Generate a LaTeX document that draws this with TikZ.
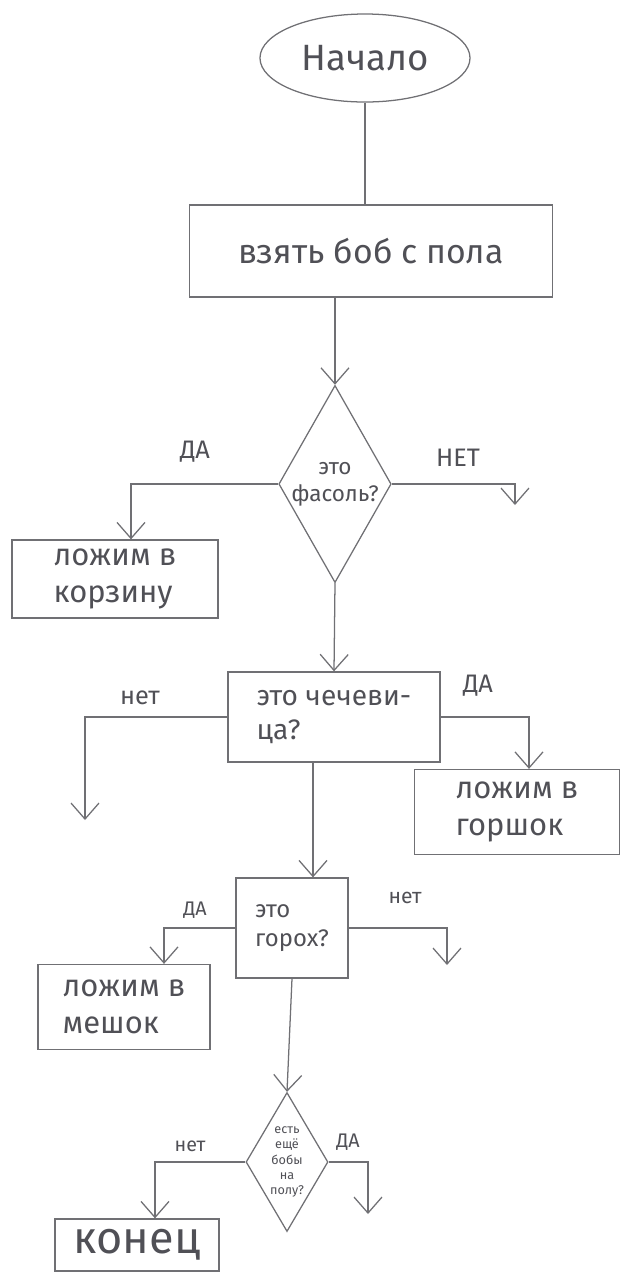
\documentclass[tikz,border=0pt]{standalone}
\usepackage{fontspec}
\setmainfont{Fira Sans}
\usetikzlibrary{shapes.geometric,arrows.meta}
\definecolor{pencil}{RGB}{112,112,116}
\definecolor{lead}{RGB}{80,80,86}
\newcommand{\hand}[1]{\fontsize{#1}{1.2\dimexpr#1pt\relax}\selectfont}
\begin{document}
\begin{tikzpicture}[x=0.025cm,y=-0.025cm,color=pencil,line width=0.9pt,
    terminal/.style={ellipse,draw,inner sep=0pt,text=lead},
    box/.style={rectangle,draw,inner sep=0pt,align=left,text=lead},
    decision/.style={diamond,draw,inner sep=0pt,align=center,text=lead},
    answer/.style={text=lead,font=\hand{18}},
    flow/.style={-{Straight Barb[length=4mm,width=7mm]}}]
    \useasboundingbox (0,0) rectangle (623,1272);

    % Start
    \node[terminal,minimum width=5.25cm,minimum height=2.2cm,font=\hand{26}] (start) at (365,58) {Начало};

    % Take a bean
    \node[box,minimum width=9.075cm,minimum height=2.3cm,font=\hand{24}] (take) at (371,251) {взять боб с пола};

    % First question
    \node[decision,minimum width=2.75cm,minimum height=4.8cm,aspect=0.57,font=\hand{16}] (isbean) at (335,484) {это\\фасоль?};
    \node[box,minimum width=5.15cm,minimum height=1.95cm,font=\hand{22}] (basket) at (115,579) {ложим в\\корзину};
    \coordinate (beanend) at (515,505);

    % Second question
    \node[box,minimum width=5.3cm,minimum height=2.25cm,font=\hand{20}] (islentil) at (334,717) {это чечеви-\\ца?};
    \node[box,minimum width=5.125cm,minimum height=2.125cm,font=\hand{22}] (pot) at (517,812) {ложим в\\горшок};
    \coordinate (lentilend) at (85,820);
    \coordinate (spine) at (313,0);

    % Third question
    \node[box,minimum width=2.8cm,minimum height=2.5cm,font=\hand{17}] (ispea) at (292,928) {это\\горох?};
    \node[box,minimum width=4.3cm,minimum height=2.125cm,font=\hand{22}] (sack) at (124,1007) {ложим в\\мешок};
    \coordinate (peaend) at (447,965);

    % Last question
    \node[decision,minimum width=2.05cm,minimum height=3.475cm,aspect=0.59,font=\hand{9}] (more) at (287,1162) {есть\\ещё\\бобы\\на\\полу?};
    \coordinate (moreend) at (368,1214);

    % End
    \node[box,minimum width=4.1cm,minimum height=1.3cm,font=\hand{32}] (finish) at (137,1245) {конец};

    % Answers
    \node[answer] (yes1) at (195,452) {ДА};
    \node[answer] (no1) at (458,458) {НЕТ};
    \node[answer] (no2) at (140,698) {нет};
    \node[answer] (yes2) at (478,686) {ДА};
    \node[answer,font=\hand{14}] (yes3) at (195,910) {ДА};
    \node[answer,font=\hand{15}] (no3) at (405,898) {нет};
    \node[answer,font=\hand{14}] (no4) at (190,1146) {нет};
    \node[answer,font=\hand{14}] (yes4) at (348,1142) {ДА};

    % Connectors
    \draw (start.south) -- (start.south |- take.north);
    \draw[flow] (take.south -| isbean.north) -- (isbean.north);
    \draw[flow] (isbean.west) -| ([xshift=0.4cm]basket.north);
    \draw[flow] (isbean.east) -| (beanend);
    \draw[flow] (isbean.south) -- (islentil.north);
    \draw[flow] (islentil.west) -| (lentilend);
    \draw[flow] (islentil.east) -| ([xshift=0.3cm]pot.north);
    \draw[flow] (islentil.south -| spine) -- (ispea.north -| spine);
    \draw[flow] (ispea.west) -| ([xshift=1cm]sack.north);
    \draw[flow] (ispea.east) -| (peaend);
    \draw[flow] (ispea.south) -- (more.north);
    \draw[flow] (more.west) -| ([xshift=0.45cm]finish.north);
    \draw[flow] (more.east) -| (moreend);
\end{tikzpicture}
\end{document}
